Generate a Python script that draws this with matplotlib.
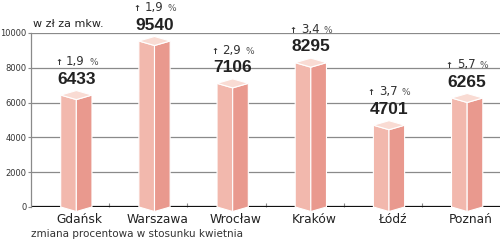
import matplotlib.pyplot as plt
from matplotlib.patches import Polygon
from matplotlib.offsetbox import TextArea, HPacker, AnnotationBbox

cities = ["Gdańsk", "Warszawa", "Wrocław", "Kraków", "Łódź", "Poznań"]
prices = [6433, 9540, 7106, 8295, 4701, 6265]
changes = ["1,9", "1,9", "2,9", "3,4", "3,7", "5,7"]
yticks = [0, 2000, 4000, 6000, 8000, 10000]

left_c = "#f2b8ad"
right_c = "#e9998e"
top_c = "#f9dbd3"

fig = plt.figure(figsize=(5, 2.4), dpi=100)
ax = fig.add_axes([0.062, 0.1375, 0.938, 0.725])
ax.set_xlim(0, 6)
ax.set_ylim(0, 10000)

# grid + axes
for y in yticks[1:]:
    ax.axhline(y, color="#8a8a8a", lw=0.9, zorder=1)
ax.axhline(0, color="#111111", lw=1.6, zorder=2)
for s in ["top", "right", "bottom"]:
    ax.spines[s].set_visible(False)
ax.spines["left"].set_color("#8a8a8a")
ax.spines["left"].set_linewidth(0.9)

ax.set_yticks(yticks)
ax.set_yticklabels([str(v) for v in yticks])
ax.tick_params(axis="y", length=2, width=0.8, color="#8a8a8a", labelsize=6,
               labelcolor="#333333", pad=1)

ax.set_xticks([i + 0.62 for i in range(len(cities))])
ax.set_xticklabels(cities)
ax.tick_params(axis="x", length=0, labelsize=8.8, labelcolor="#222222", pad=4)
ax.set_xticks(range(1, 6), minor=True)
ax.tick_params(axis="x", which="minor", length=3, direction="in",
               color="#8a8a8a", width=0.8)

# pseudo-3d prisms
hw = 0.2
d = 260
for i, h in enumerate(prices):
    c = i + 0.58
    L, R = c - hw, c + hw
    ax.add_patch(Polygon([(L, 0), (c, -d), (c, h - d), (L, h)], closed=True,
                         fc=left_c, ec="white", lw=0.8, zorder=3, clip_on=False))
    ax.add_patch(Polygon([(c, -d), (R, 0), (R, h), (c, h - d)], closed=True,
                         fc=right_c, ec="white", lw=0.8, zorder=3, clip_on=False))
    ax.add_patch(Polygon([(L, h), (c, h - d), (R, h), (c, h + d)], closed=True,
                         fc=top_c, ec="white", lw=0.8, zorder=4, clip_on=False))

    ax.annotate(f"{h}", (c, h), xytext=(0, 11.5), textcoords="offset points",
                ha="center", va="center", fontsize=12.5, fontweight="bold",
                family="Liberation Sans", color="#222222", annotation_clip=False)

    parts = [
        TextArea("↑", textprops=dict(fontsize=6, fontweight="bold", color="#333333")),
        TextArea(changes[i], textprops=dict(fontsize=8.5, color="#333333")),
        TextArea("%", textprops=dict(fontsize=6.5, color="#555555")),
    ]
    box = HPacker(children=parts, align="baseline", pad=0, sep=3)
    ab = AnnotationBbox(box, (c, h), xybox=(0, 24), xycoords="data",
                        boxcoords="offset points", box_alignment=(0.5, 0.5),
                        frameon=False, annotation_clip=False)
    ax.add_artist(ab)

fig.text(33 / 500, 0.9, "w zł za mkw.", fontsize=8, color="#222222", va="center")
fig.text(31 / 500, 0.025, "zmiana procentowa w stosunku kwietnia", fontsize=7.5,
         color="#333333", va="center")

fig.savefig("out.png", dpi=100)
